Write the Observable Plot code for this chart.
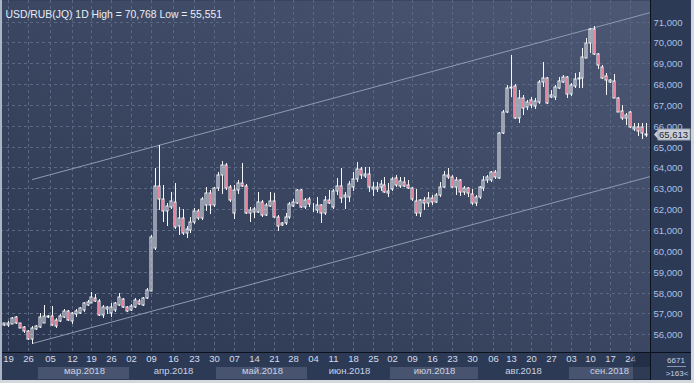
<!DOCTYPE html>
<html><head><meta charset="utf-8">
<script src="https://cdn.jsdelivr.net/npm/d3@7"></script>
<script src="https://cdn.jsdelivr.net/npm/@observablehq/plot@0.6"></script>
<style>html,body{margin:0;padding:0;background:#d3d7de;}#chart{width:694px;height:383px;overflow:hidden;}</style>
</head><body><div id="chart"></div>
<script>
const title = "USD/RUB(JQ) 1D High = 70,768 Low = 55,551";
const opens = [56.45,56.43,56.49,56.84,56.53,56.34,56.16,55.76,56.27,56.36,56.56,56.82,56.88,56.69,56.64,56.84,57.12,56.65,56.96,57.04,57.17,57.41,57.52,57.76,57.61,56.93,57.20,57.01,57.17,57.41,57.68,57.30,57.17,57.32,57.61,57.41,57.73,58.09,60.14,63.11,62.48,61.93,62.09,62.36,61.19,61.56,60.84,61.00,61.40,61.93,61.56,62.20,62.76,62.20,63.00,63.64,64.12,63.05,61.83,62.92,63.27,63.11,61.83,61.88,61.88,62.36,61.72,62.15,62.41,61.61,61.23,61.32,61.61,62.15,62.31,62.92,62.12,62.48,62.09,61.96,62.20,61.83,62.44,62.12,62.89,63.11,62.60,62.57,63.08,63.43,63.91,63.59,63.69,62.95,62.95,63.05,63.16,62.79,62.95,63.48,63.11,63.32,63.16,63.00,62.41,61.83,62.44,62.28,62.52,62.36,62.68,63.08,63.64,63.53,63.08,63.40,62.84,63.00,62.73,62.28,62.57,63.00,63.40,63.40,63.80,63.48,65.64,66.68,67.83,67.92,66.36,67.32,66.92,67.24,66.96,67.13,68.09,68.28,67.40,67.40,67.83,68.12,68.36,67.51,67.92,68.24,68.28,69.27,69.96,70.64,69.43,68.83,68.40,68.12,68.15,67.35,66.71,66.36,66.65,65.85,65.96,65.96,65.58];
const highs = [56.56,56.64,56.84,56.88,56.56,56.40,56.21,56.40,56.45,57.04,57.41,56.91,57.37,56.77,56.96,57.20,57.17,57.08,57.20,57.32,57.56,57.65,58.04,57.93,57.68,57.41,57.36,57.49,57.56,57.97,57.73,57.36,57.45,57.73,57.68,57.80,58.21,60.76,63.96,65.08,63.16,62.28,62.84,63.27,62.09,62.00,61.19,61.64,62.04,62.00,62.57,63.08,62.92,63.08,63.80,64.33,64.20,63.16,63.16,63.40,64.23,63.21,62.09,62.09,62.84,62.44,62.28,62.84,62.79,61.72,61.40,61.80,62.36,62.48,62.95,62.95,62.52,62.57,62.28,62.57,62.25,62.63,62.92,62.95,63.48,63.96,62.84,63.37,63.80,64.28,64.01,64.04,64.04,63.32,63.32,63.40,63.56,63.27,63.56,63.64,63.53,63.56,63.40,63.05,62.95,62.48,62.60,62.84,62.68,62.76,63.32,63.83,63.96,63.64,63.56,63.43,63.11,63.08,62.95,62.68,63.11,63.59,63.64,63.85,63.88,65.72,66.76,67.96,69.40,67.99,67.72,67.48,67.24,67.40,67.33,68.20,69.05,68.36,67.72,67.96,68.36,68.44,68.40,68.04,68.52,68.57,69.72,70.20,70.71,70.768,69.48,68.92,68.52,68.24,68.47,67.40,67.00,66.60,66.71,66.12,66.12,66.12,66.12];
const lows = [56.40,56.36,56.48,56.49,56.29,56.08,55.73,55.551,56.21,56.29,56.53,56.77,56.40,56.32,56.60,56.77,56.64,56.49,56.84,56.97,57.08,57.36,57.49,57.56,56.88,56.77,56.97,56.84,57.08,57.36,57.25,57.07,57.12,57.28,57.41,57.36,57.68,58.08,60.04,61.96,61.40,61.19,62.00,61.04,60.76,60.76,60.60,60.84,61.29,61.48,61.48,61.93,61.77,62.09,62.89,62.73,62.92,62.36,61.52,62.73,63.08,61.77,61.40,61.56,61.83,61.64,61.67,62.09,61.56,60.97,61.19,61.24,61.52,62.09,62.25,62.04,62.00,62.09,61.88,61.80,61.32,61.72,62.25,62.00,62.68,62.31,62.00,62.36,62.89,63.32,63.43,63.48,62.84,62.63,62.84,62.89,62.76,62.60,62.89,63.08,63.00,63.05,62.95,62.41,61.67,61.64,61.96,62.12,62.20,62.28,62.60,63.00,63.43,63.00,62.68,62.63,62.68,62.60,62.20,62.15,62.48,62.89,63.27,63.32,63.43,63.45,65.59,66.60,67.40,66.33,66.12,66.52,66.76,66.87,66.81,67.03,67.88,67.03,67.35,67.24,67.77,68.04,67.35,67.44,67.83,67.80,67.80,69.24,69.48,69.40,68.72,68.24,67.48,68.04,67.32,66.65,66.28,66.04,65.88,65.75,65.53,65.37,65.48];
const closes = [56.53,56.56,56.80,56.53,56.32,56.16,55.76,56.32,56.40,56.84,56.88,56.88,56.45,56.40,56.88,57.12,56.69,57.01,57.13,57.25,57.49,57.56,57.80,57.61,56.93,57.32,57.30,57.30,57.49,57.78,57.30,57.13,57.36,57.65,57.45,57.73,58.13,60.67,63.11,62.48,61.93,62.15,62.41,61.16,61.56,60.84,61.04,61.40,61.93,61.56,62.48,62.76,62.20,63.00,63.64,64.12,63.00,62.44,62.92,63.27,63.11,61.83,61.96,62.00,62.36,61.72,62.20,62.41,61.61,61.19,61.32,61.61,62.25,62.36,62.92,62.12,62.44,62.25,62.12,62.20,61.83,62.44,62.31,62.89,63.11,62.52,62.67,63.21,63.43,63.91,63.64,63.69,63.05,63.05,63.05,63.21,62.84,62.89,63.43,63.16,63.37,63.11,63.00,62.48,61.83,62.44,62.28,62.52,62.36,62.68,63.08,63.64,63.53,63.08,63.40,62.84,63.00,62.76,62.28,62.60,63.05,63.40,63.56,63.80,63.53,65.64,66.68,67.80,67.88,66.36,67.35,66.87,67.13,67.00,67.19,68.09,68.28,67.08,67.48,67.88,68.15,68.36,67.51,67.96,68.24,68.31,69.31,69.96,70.64,69.43,68.92,68.31,68.20,68.18,67.35,66.68,66.36,66.52,65.96,65.96,65.75,65.64,65.613];
const yTicks = [56,57,58,59,60,61,62,63,64,65,66,67,68,69,70,71];
const weekLabels = ["19","26","05","12","19","26","02","09","16","23","30","07","14","21","28","04","11","18","25","02","09","16","23","30","06","13","20","27","03","10","17","24"];
const weekBars = [1,6,11.5,17,22,27,32,37,42.5,48,53,58,63,68,73,78,83,88,93,98,103,108,113,118,123.5,128,133,138,143,148,153,158];
const monthLabels = ["мар.2018","апр.2018","май.2018","июн.2018","июл.2018","авг.2018","сен.2018"];
const monthStart = [8.5,31.5,53.5,76.5,97.5,119.5,142.5];
const monthEnd = [31.5,53.5,76.5,97.5,119.5,142.5,163.05];
const channelBars = [7,163.05];
const channelUpper = [63.45,71.44];
const channelLower = [55.58,63.59];
const footTop = "6671", footBottom = ">163<";

(function () {
const xDomain = [-1.1, 163.05];
const W = 694, H = 383, mR = 44, mB = 31;
const pitch = (W - mR) / (xDomain[1] - xDomain[0]);
const half = 1 / pitch;
const fmt = v => v.toFixed(3).replace(".", ",");

const bars = opens.map((o, i) => ({i, o, h: highs[i], l: lows[i], c: closes[i]}));
const upBars = bars.filter(d => d.c >= d.o);
const downBars = bars.filter(d => d.c < d.o);
const months = monthLabels.map((m, k) => ({m, a: monthStart[k], b: monthEnd[k], k}));
const upperLine = channelBars.map((b, k) => ({b, p: channelUpper[k]}));
const lowerLine = channelBars.map((b, k) => ({b, p: channelLower[k]}));

const grid = "#5a6883", white = "#f4f6fa", red = "#dc1440";
const plot = Plot.plot({
  width: W, height: H,
  marginLeft: 0, marginRight: mR, marginTop: 0, marginBottom: mB,
  style: {background: "#2d3a56", fontFamily: "'Liberation Sans', Arial, sans-serif", fontSize: "9.5px", overflow: "visible"},
  x: {type: "linear", domain: xDomain, round: true, axis: null},
  y: {type: "linear", domain: [55.151, 72.033], round: true, axis: null},
  marks: [
    Plot.frame({fill: "url(#bg)", stroke: "none"}),
    Plot.ruleY(yTicks, {y: d => d, stroke: grid, strokeDasharray: "3,3"}),
    Plot.ruleX(weekBars, {x: d => d, stroke: grid, strokeDasharray: "3,3"}),
    Plot.line(upperLine, {x: "b", y: "p", stroke: "#8e9ab0", strokeWidth: 1, clip: true}),
    Plot.line(lowerLine, {x: "b", y: "p", stroke: "#8e9ab0", strokeWidth: 1, clip: true}),
    Plot.ruleX(bars, {x: "i", y1: d => Math.max(d.o, d.c), y2: "h", stroke: white}),
    Plot.ruleX(bars, {x: "i", y1: "l", y2: d => Math.min(d.o, d.c), stroke: white}),
    Plot.rect(upBars, {x1: d => d.i - half, x2: d => d.i + half, y1: "o", y2: "c", fill: "none", stroke: white}),
    Plot.rect(downBars, {x1: d => d.i - half, x2: d => d.i + half, y1: "o", y2: "c", fill: red, stroke: white}),
    Plot.text(yTicks, {y: d => d, text: d => fmt(d), frameAnchor: "right", dx: 3, textAnchor: "start", fill: "#a9c1e6"}),
    Plot.rect(months.filter(d => d.k % 2 === 0), {x1: "a", x2: "b", insetTop: 367, insetBottom: -27, fill: "#48546f"}),
    Plot.text(weekBars, {x: d => d, text: (d, k) => weekLabels[k], frameAnchor: "bottom", dy: 9, fill: "#d2dbec"}),
    Plot.text(months, {x: d => (d.a + d.b) / 2, text: "m", frameAnchor: "bottom", dy: 21, fill: "#c8d2e4"}),
    Plot.text([title], {text: d => d, frameAnchor: "top-left", dx: 5, dy: 10, textAnchor: "start", fill: "#e8eef8", fontSize: 10.4})
  ]
});
document.getElementById("chart").appendChild(plot);

const svg = d3.select(plot);
const defs = svg.insert("defs", ":first-child");
const g = defs.append("linearGradient").attr("id", "bg").attr("x1", 0).attr("y1", 1).attr("x2", 1).attr("y2", 0);
g.append("stop").attr("offset", 0).attr("stop-color", "#2b3650");
g.append("stop").attr("offset", 1).attr("stop-color", "#4c5874");

const axTop = H - mB, axRight = W - mR;
svg.append("rect").attr("x", 633).attr("y", axTop).attr("width", axRight - 633).attr("height", 28).attr("fill", "#1c263a").attr("opacity", 0.55);
svg.append("line").attr("x1", 0).attr("x2", W).attr("y1", axTop + 0.5).attr("y2", axTop + 0.5).attr("stroke", "#0c121d");
svg.append("line").attr("x1", axRight + 0.5).attr("x2", axRight + 0.5).attr("y1", 0).attr("y2", 380).attr("stroke", "#0c121d");
const last = closes[closes.length - 1];
const py = Math.round(plot.scale("y").apply(last));
svg.append("path").attr("d", `M${axRight + 4},${py + 0.5}L${axRight + 8},${py - 4}L${axRight + 8},${py + 5}Z`).attr("fill", "#c9ced6");
svg.append("rect").attr("x", axRight + 8).attr("y", py - 5).attr("width", 32).attr("height", 11).attr("fill", "#c9ced6").attr("stroke", "#9aa3b2");
svg.append("text").attr("x", axRight + 9).attr("y", py + 1).attr("text-anchor", "start").attr("dominant-baseline", "middle").attr("fill", "#1b2436").attr("font-size", "9.5px").text(fmt(last));
svg.append("text").attr("x", 676).attr("y", 361).attr("text-anchor", "middle").attr("dominant-baseline", "middle").attr("fill", "#c8d2e4").attr("font-size", "8px").text(footTop);
svg.append("line").attr("x1", 667).attr("x2", 686).attr("y1", 366.5).attr("y2", 366.5).attr("stroke", "#8797b2");
svg.append("text").attr("x", 677).attr("y", 374).attr("text-anchor", "middle").attr("dominant-baseline", "middle").attr("fill", "#c8d2e4").attr("font-size", "8px").text(footBottom);
svg.append("rect").attr("x", 0).attr("y", 0).attr("width", 2).attr("height", H).attr("fill", "#aab4c5");
svg.append("rect").attr("x", 691).attr("y", 0).attr("width", 3).attr("height", H).attr("fill", "#d3d7de");
svg.append("rect").attr("x", 0).attr("y", 380).attr("width", W).attr("height", 3).attr("fill", "#d3d7de");
})();
</script></body></html>
